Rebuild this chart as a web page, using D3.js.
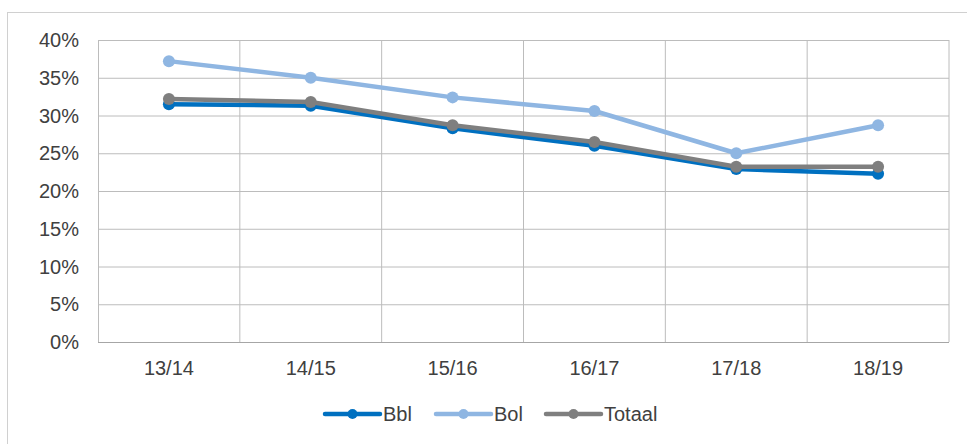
<!DOCTYPE html>
<html>
<head>
<meta charset="utf-8">
<script src="https://cdn.jsdelivr.net/npm/d3@7"></script>
<style>
  body { margin: 0; background: #fff; }
  svg text { font-family: "Liberation Sans", Arial, sans-serif; fill: #404040; }
</style>
</head>
<body>
<div id="chart"></div>
<script>
const years = ['13/14', '14/15', '15/16', '16/17', '17/18', '18/19'];
const bbl = [0.315, 0.313, 0.283, 0.260, 0.229, 0.223];
const bol = [0.372, 0.350, 0.324, 0.306, 0.250, 0.287];
const totaal = [0.322, 0.318, 0.287, 0.265, 0.232, 0.232];
const yTicks = [0, 0.05, 0.1, 0.15, 0.2, 0.25, 0.3, 0.35, 0.4];

const seriesList = [
  { name: 'Bbl', values: bbl, color: '#0070C0' },
  { name: 'Bol', values: bol, color: '#8FB6E2' },
  { name: 'Totaal', values: totaal, color: '#7F7F7F' },
];

const width = 967;
const height = 444;
const plot = { left: 98, right: 949, top: 40, bottom: 342 };
const fontSize = 20;

const svg = d3.select('#chart')
  .append('svg')
  .attr('width', width)
  .attr('height', height);

// outer frame
svg.append('rect')
  .attr('x', 7.5).attr('y', 12.5)
  .attr('width', 970).attr('height', 450)
  .attr('fill', 'none')
  .attr('stroke', '#d0d0d0');

const xScale = d3.scaleBand()
  .domain(years)
  .range([plot.left, plot.right]);

const yScale = d3.scaleLinear()
  .domain([0, 0.4])
  .range([plot.bottom, plot.top]);

// horizontal gridlines
svg.append('g')
  .attr('transform', `translate(${plot.left},0)`)
  .call(d3.axisLeft(yScale).tickValues(yTicks).tickFormat('').tickSize(-(plot.right - plot.left)))
  .call(g => g.select('.domain').remove())
  .call(g => g.selectAll('line').attr('stroke', '#bcbcbc'));

// vertical gridlines at category boundaries
svg.append('g')
  .selectAll('line')
  .data(years)
  .join('line')
  .attr('x1', d => xScale(d) + xScale.bandwidth())
  .attr('x2', d => xScale(d) + xScale.bandwidth())
  .attr('y1', plot.top)
  .attr('y2', plot.bottom)
  .attr('stroke', '#bcbcbc');

svg.append('line')
  .attr('x1', plot.left + 0.5).attr('x2', plot.left + 0.5)
  .attr('y1', plot.top).attr('y2', plot.bottom)
  .attr('stroke', '#bcbcbc');

// baseline
svg.append('line')
  .attr('x1', plot.left).attr('x2', plot.right)
  .attr('y1', plot.bottom + 0.5).attr('y2', plot.bottom + 0.5)
  .attr('stroke', '#a6a6a6');

// y labels
svg.append('g')
  .selectAll('text')
  .data(yTicks)
  .join('text')
  .attr('x', 79)
  .attr('y', d => yScale(d) + 7)
  .attr('text-anchor', 'end')
  .attr('font-size', fontSize)
  .text(d => d3.format('.0%')(d));

// x labels
svg.append('g')
  .selectAll('text')
  .data(years)
  .join('text')
  .attr('x', d => xScale(d) + xScale.bandwidth() / 2)
  .attr('y', 375)
  .attr('text-anchor', 'middle')
  .attr('font-size', fontSize)
  .text(d => d);

const line = d3.line()
  .x((d, i) => xScale(years[i]) + xScale.bandwidth() / 2)
  .y(d => yScale(d));

const lines = svg.append('g');
seriesList.forEach(s => {
  lines.append('path')
    .datum(s.values)
    .attr('d', line)
    .attr('fill', 'none')
    .attr('stroke', s.color)
    .attr('stroke-width', 4.5)
    .attr('stroke-linejoin', 'round');
  lines.selectAll(null)
    .data(s.values)
    .join('circle')
    .attr('cx', (d, i) => xScale(years[i]) + xScale.bandwidth() / 2)
    .attr('cy', d => yScale(d))
    .attr('r', 6)
    .attr('fill', s.color);
});

// legend
const legendX = [325, 436, 546];
const legend = svg.append('g');
seriesList.forEach((s, i) => {
  const g = legend.append('g').attr('transform', `translate(${legendX[i]},414)`);
  g.append('line')
    .attr('x1', 0).attr('x2', 55)
    .attr('stroke', s.color)
    .attr('stroke-width', 4.5)
    .attr('stroke-linecap', 'round');
  g.append('circle').attr('cx', 27.5).attr('r', 5).attr('fill', s.color);
  g.append('text')
    .attr('x', 58)
    .attr('y', 7)
    .attr('font-size', fontSize)
    .text(s.name);
});
</script>
</body>
</html>
